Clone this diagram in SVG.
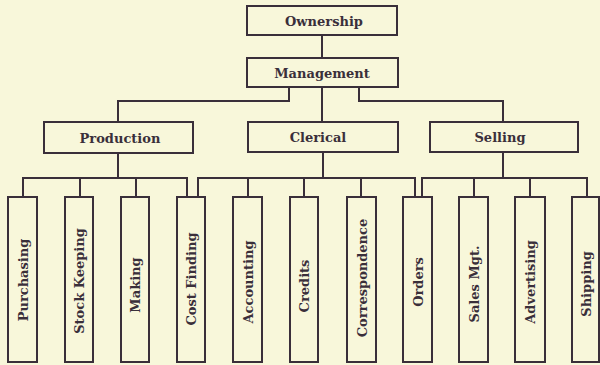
<svg xmlns="http://www.w3.org/2000/svg" width="600" height="365" viewBox="0 0 600 365">
<style>
.bg{fill:#f8f7da}
.box{fill:#f8f7da;stroke:#3a2f3a;stroke-width:2}
.con{fill:none;stroke:#3a2f3a;stroke-width:2}
.t{font-family:"DejaVu Serif","Liberation Serif",serif;font-weight:bold;font-size:13px;fill:#3a2f3a;text-anchor:middle;dominant-baseline:central}
</style>
<rect class="bg" x="0" y="0" width="600" height="365"/>
<g id="connectors">
<path class="con" d="M322 35V58"/>
<path class="con" d="M289 87V101H118V122"/>
<path class="con" d="M322 87V122"/>
<path class="con" d="M359 87V101H503V122"/>
<path class="con" d="M118 153V178"/>
<path class="con" d="M23 197V178H187V197M80 178V197M136 178V197"/>
<path class="con" d="M323 152V178"/>
<path class="con" d="M198 197V178H415V197M248 178V197M304 178V197M361 178V197"/>
<path class="con" d="M503 152V178"/>
<path class="con" d="M422 197V178H587V197M474 178V197M530 178V197"/>
</g>
<g id="ownership"><rect class="box" x="247" y="6" width="150" height="29"/><text class="t" x="324" y="21">Ownership</text></g>
<g id="management"><rect class="box" x="247" y="58" width="151" height="29"/><text class="t" x="322" y="73">Management</text></g>
<g id="production"><rect class="box" x="44" y="122" width="149" height="31"/><text class="t" x="120" y="138">Production</text></g>
<g id="clerical"><rect class="box" x="248" y="122" width="150" height="30"/><text class="t" x="318" y="137">Clerical</text></g>
<g id="selling"><rect class="box" x="430" y="122" width="148" height="30"/><text class="t" x="500" y="137">Selling</text></g>
<g id="purchasing"><rect class="box" x="8" y="197" width="29" height="165"/><text class="t" transform="translate(23,280) rotate(-90)">Purchasing</text></g>
<g id="stock-keeping"><rect class="box" x="65" y="197" width="28" height="165"/><text class="t" transform="translate(79,281) rotate(-90)">Stock Keeping</text></g>
<g id="making"><rect class="box" x="121" y="197" width="28" height="165"/><text class="t" transform="translate(135,285) rotate(-90)">Making</text></g>
<g id="cost-finding"><rect class="box" x="177" y="197" width="28" height="165"/><text class="t" transform="translate(191,279) rotate(-90)">Cost Finding</text></g>
<g id="accounting"><rect class="box" x="233" y="197" width="29" height="165"/><text class="t" transform="translate(248,282) rotate(-90)">Accounting</text></g>
<g id="credits"><rect class="box" x="290" y="197" width="28" height="165"/><text class="t" transform="translate(304,286) rotate(-90)">Credits</text></g>
<g id="correspondence"><rect class="box" x="347" y="197" width="29" height="165"/><text class="t" transform="translate(362,278) rotate(-90)">Correspondence</text></g>
<g id="orders"><rect class="box" x="403" y="197" width="29" height="165"/><text class="t" transform="translate(418,282) rotate(-90)">Orders</text></g>
<g id="sales-mgt"><rect class="box" x="459" y="197" width="29" height="165"/><text class="t" transform="translate(474,284) rotate(-90)">Sales Mgt.</text></g>
<g id="advertising"><rect class="box" x="515" y="197" width="30" height="165"/><text class="t" transform="translate(530,282) rotate(-90)">Advertising</text></g>
<g id="shipping"><rect class="box" x="572" y="197" width="27" height="165"/><text class="t" transform="translate(586,284) rotate(-90)">Shipping</text></g>
</svg>
